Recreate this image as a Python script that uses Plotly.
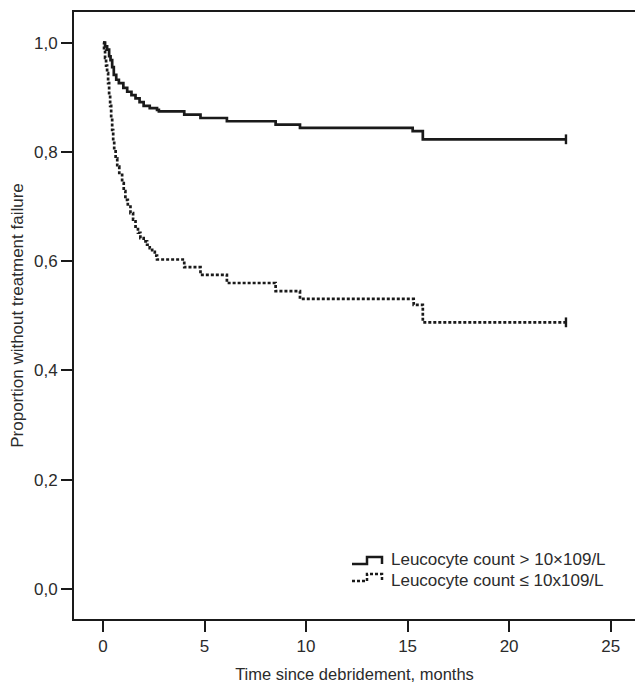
import plotly.graph_objects as go

# ---- data ----
t_high = [0, 0.1, 0.2, 0.3, 0.37, 0.45, 0.53, 0.65, 0.78, 1.0, 1.19, 1.4, 1.6, 1.8, 2.0, 2.3, 2.66, 2.75,
          4.0, 4.8, 6.1, 8.5, 9.7, 15.25, 15.75, 22.8]
s_high = [1.0, 0.993, 0.987, 0.975, 0.968, 0.955, 0.941, 0.932, 0.926, 0.917, 0.910, 0.904, 0.898, 0.891,
          0.884, 0.880, 0.877, 0.874, 0.868, 0.862, 0.856, 0.850, 0.844, 0.838, 0.823, 0.823]

t_low = [0, 0.05, 0.1, 0.15, 0.2, 0.25, 0.3, 0.35, 0.4, 0.45, 0.5, 0.55, 0.62, 0.7, 0.8, 0.94, 1.02, 1.1,
         1.22, 1.35, 1.48, 1.6, 1.72, 1.84, 2.0, 2.17, 2.3, 2.42, 2.55, 2.66, 4.0, 4.8, 6.1, 8.5, 9.7,
         15.3, 15.75, 22.8]
s_low = [1.0, 0.985, 0.972, 0.958, 0.944, 0.926, 0.905, 0.884, 0.862, 0.840, 0.820, 0.804, 0.788, 0.773,
         0.758, 0.743, 0.728, 0.712, 0.700, 0.688, 0.676, 0.663, 0.652, 0.642, 0.636, 0.630, 0.624, 0.617,
         0.610, 0.603, 0.589, 0.575, 0.560, 0.545, 0.531, 0.520, 0.488, 0.488]

labels = ["Leucocyte count > 10×109/L", "Leucocyte count ≤ 10x109/L"]
x_ticks = [0, 5, 10, 15, 20, 25]
y_ticks = [0.0, 0.2, 0.4, 0.6, 0.8, 1.0]

# ---- layout geometry ----
W, H = 635, 683
ML, MR, MT, MB = 74, 0, 12, 64
PW, PH = W - ML - MR, H - MT - MB
FONT = "Arial, Liberation Sans, sans-serif"
INK = "#1a1a1a"
TXT = "#2b2b2b"
DASH = "3px,2px"


def px(x):
    return (x - ML) / PW


def py(y):
    return (H - MB - y) / PH


fig = go.Figure()
fig.add_trace(go.Scatter(x=t_high, y=s_high, mode="lines", line=dict(color=INK, width=2.7, shape="hv"),
                         name=labels[0], showlegend=False))
fig.add_trace(go.Scatter(x=t_low, y=s_low, mode="lines", line=dict(color=INK, width=2.7, shape="hv", dash=DASH),
                         name=labels[1], showlegend=False))
# censor ticks at end of follow-up
fig.add_trace(go.Scatter(x=[t_high[-1], t_low[-1]], y=[s_high[-1], s_low[-1]], mode="markers",
                         marker=dict(symbol="line-ns-open", size=7, color=INK, line=dict(color=INK, width=2.4)),
                         showlegend=False, hoverinfo="skip"))

# legend keys (step-shaped, as in reference)
shapes = []
for yb, yt, dash in [(564, 557, None), (581, 574, DASH)]:
    path = (f"M {px(352)},{py(yb)} H {px(367)} V {py(yt)} H {px(382)} V {py(yb)}")
    shapes.append(dict(type="path", xref="paper", yref="paper", path=path,
                       line=dict(color=INK, width=2.5, dash=dash)))

annotations = []
for lab, yc in zip(labels, [559, 580]):
    annotations.append(dict(text=lab, x=px(389), y=py(yc), xref="paper", yref="paper",
                            xanchor="left", yanchor="middle", showarrow=False,
                            font=dict(family=FONT, size=17, color=TXT)))

fig.update_layout(
    width=W, height=H,
    margin=dict(l=ML, r=MR, t=MT, b=MB),
    paper_bgcolor="white", plot_bgcolor="white",
    separators=",.",
    font=dict(family=FONT, size=17, color=TXT),
    shapes=shapes, annotations=annotations,
    showlegend=False,
)
fig.update_xaxes(range=[-1.43, 26.2], tickvals=x_ticks, ticks="outside", ticklen=11, tickwidth=1.8,
                 tickcolor=INK, showline=True, linecolor=INK, linewidth=1.8, mirror=True,
                 showgrid=False, zeroline=False, tickfont=dict(size=17, color=TXT),
                 title=dict(text="Time since debridement, months", font=dict(size=16.5, color=TXT), standoff=14))
fig.update_yaxes(range=[-0.055, 1.056], tickvals=y_ticks, tickformat=".1f", ticks="outside", ticklen=11,
                 tickwidth=1.8, tickcolor=INK, showline=True, linecolor=INK, linewidth=1.8,
                 showgrid=False, zeroline=False, tickfont=dict(size=17, color=TXT),
                 title=dict(text="Proportion without treatment failure", font=dict(size=17, color=TXT),
                            standoff=6))

fig.write_html("out.html")
